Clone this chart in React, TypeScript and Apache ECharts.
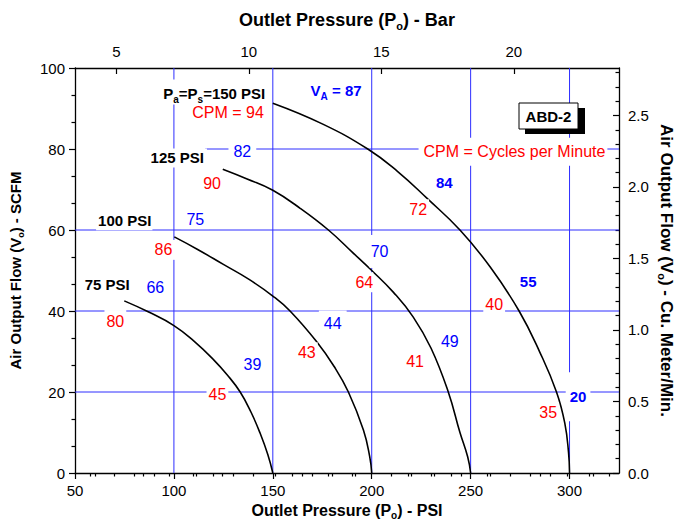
import React, { useEffect, useRef } from 'react';
import * as echarts from 'echarts';

// ---------- data ----------
const curve75 = [[74.9, 42.5], [87, 39.8], [100, 36.4], [110, 32.6], [120, 28.0], [127, 24.2], [133.5, 20], [139, 15], [143.6, 9.8], [147.5, 4.5], [150, 0]];
const curve100 = [[100.2, 58.3], [112, 55.2], [125, 51.5], [138, 47.8], [150, 43.7], [158.7, 40], [172.2, 32.4], [181, 26.3], [188.2, 20], [195.8, 10.6], [199, 4], [200, 0]];
const curve125 = [[124.7, 75], [137, 72.6], [150, 69.8], [164, 65.3], [178.1, 60], [190, 54.6], [200, 50], [211, 44.6], [221, 38.5], [230, 30.8], [238.7, 20], [244.6, 10], [248.5, 4], [250, 0]];
const curve150 = [[150, 91.3], [175, 86.2], [198, 80], [213, 74.5], [228, 67.8], [244.6, 60], [260, 50.8], [274.5, 40], [285, 29.8], [293.4, 20], [297.6, 12.3], [299.5, 5], [300, 0]];

const gridVerticalX = [100, 150, 200, 250, 300];
const gridHorizontalY = [20, 40, 60, 80];
const gridHorizontalStart = [50, 50, 50, 115.8];

const cpmLabels = ['CPM = 94', '90', '86', '80', '72', '64', '43', '45', '40', '41', '35', 'CPM = Cycles per Minute'];
const cpmX = [127.4, 119.3, 94.7, 70.4, 223.5, 195.5, 167.2, 122.0, 261.9, 221.9, 289.2, 271.4];
const cpmY = [88.9, 71.6, 55.1, 37.4, 65.1, 47.1, 29.8, 19.3, 41.7, 27.5, 15.0, 79.3];

const flowLabels = ['82', '75', '66', '70', '44', '39', '49'];
const flowX = [134.6, 110.8, 90.6, 204.2, 180.3, 139.7, 239.5];
const flowY = [79.3, 62.7, 45.9, 54.7, 36.8, 26.7, 32.5];

const flowBoldLabels = ['84', '55', '20'];
const flowBoldX = [236.7, 279.1, 304.3];
const flowBoldY = [71.7, 47.3, 18.8];

const pressureLabels = ['125 PSI', '100 PSI', '75 PSI'];
const pressureX = [101.7, 74.9, 66.3];
const pressureY = [77.8, 62.3, 46.5];

const headPressureX = 120.4;
const headPressureY = 94.1;
const airVolumeX = 182.0;
const airVolumeY = 94.1;

const bottomMajor = [50, 100, 150, 200, 250, 300];
const bottomMinor = [60, 70, 80, 90, 110, 120, 130, 140, 160, 170, 180, 190, 210, 220, 230, 240, 260, 270, 280, 290, 310, 320];
const topMajor = [5, 10, 15, 20];
const topMinor = [4, 6, 7, 8, 9, 11, 12, 13, 14, 16, 17, 18, 19, 21, 22, 23];
const rightMajor = [0, 0.5, 1.0, 1.5, 2.0, 2.5];
const rightMinor = [0.1, 0.2, 0.3, 0.4, 0.6, 0.7, 0.8, 0.9, 1.1, 1.2, 1.3, 1.4, 1.6, 1.7, 1.8, 1.9, 2.1, 2.2, 2.3, 2.4, 2.6, 2.7, 2.8];

// ---------- styles ----------
const FONT = '"Liberation Sans", Arial, Helvetica, sans-serif';
const BLUE = '#0000ff';
const GRIDBLUE = '#2e2eff';
const RED = '#ff0000';
const CLEAR = 'rgba(0,0,0,0)';

const cpmPads = [[2, 3, 2, 3], [2, 3, 2, 3], [2, 3, 2, 3], [5, 2, 2, 2], [2, 2, 2, 2], [2, 0, 2, 3], [2, 2, 2, 2], [2, 2, 2, 2], [2, 2, 2, 2], [2, 2, 2, 2], [2, 2, 2, 2], [8, 2, 4, 5]];
const flowPads = [[2, 5, 2, 5], [2, 5, 2, 5], [2, 2, 2, 2], [12, 2, 5, 1], [8, 5, 3, 5], [2, 2, 2, 2], [2, 2, 2, 2]];
const flowBoldPads = [[2, 2, 2, 2], [2, 2, 2, 2], [22, 4, 12, 4]];
const pressurePads = [[2, 3, 2, 3], [2, 1, 2, 2], [2, 2, 2, 2]];

function labelSeries(name: string, texts: string[], xs: number[], ys: number[], pads: number[][], color: string, size: number, weight: string) {
  return {
    type: 'scatter',
    name,
    xAxisIndex: 0,
    yAxisIndex: 0,
    symbol: 'circle',
    symbolSize: 2,
    itemStyle: { color: CLEAR, borderWidth: 0 },
    z: 10,
    silent: true,
    data: texts.map((t, i) => ({
      name: t,
      value: [xs[i], ys[i]],
      label: { padding: pads[i] },
    })),
    label: {
      show: true,
      position: 'inside',
      formatter: '{b}',
      color,
      opacity: 1,
      fontSize: size,
      fontWeight: weight,
      fontFamily: FONT,
      backgroundColor: '#ffffff',
    },
  };
}

function nameRich(size: number) {
  return {
    m: { fontSize: size, fontWeight: 'bold', fontFamily: FONT, color: '#000', lineHeight: size + 4 },
    s: { fontSize: Math.round(size * 0.62), fontWeight: 'bold', fontFamily: FONT, color: '#000', lineHeight: Math.round(size * 0.62), verticalAlign: 'bottom' },
  };
}

export default function App() {
  const ref = useRef<HTMLDivElement>(null);
  useEffect(() => {
    if (!ref.current) return;
    const chart = echarts.init(ref.current, undefined, { renderer: 'svg' });

    const gridSegs: number[][][] = [];
    gridVerticalX.forEach((x) => gridSegs.push([[x, 0], [x, 100]]));
    gridHorizontalY.forEach((y, i) => gridSegs.push([[gridHorizontalStart[i], y], [325, y]]));

    const tickLabel = { color: '#000', fontSize: 15, fontFamily: FONT };

    const option: any = {
      animation: false,
      backgroundColor: '#ffffff',
      textStyle: { fontFamily: FONT },
      grid: { left: 75, right: 57, top: 68, bottom: 49, containLabel: false, outerBoundsMode: 'none' },
      xAxis: [
        {
          type: 'value', position: 'bottom', min: 50, max: 325,
          axisLine: { show: true, onZero: false, lineStyle: { color: '#000', width: 1.3 } },
          axisTick: { show: true, inside: false, length: 6, customValues: bottomMajor, lineStyle: { color: '#000', width: 1.2 } },
          axisLabel: { ...tickLabel, margin: 10, customValues: bottomMajor },
          splitLine: { show: false },
          name: '{m|Outlet Pressure (P}{s|o}{m|) - PSI}',
          nameLocation: 'middle', nameGap: 27, nameMoveOverlap: false,
          nameTextStyle: { rich: nameRich(16) },
        },
        {
          type: 'value', position: 'bottom', min: 50, max: 325,
          axisLine: { show: false },
          axisTick: { show: true, inside: false, length: 3.5, customValues: bottomMinor, lineStyle: { color: '#000', width: 1.2 } },
          axisLabel: { show: false },
          splitLine: { show: false },
        },
        {
          type: 'value', position: 'top', min: 3.44, max: 23.97,
          axisLine: { show: true, onZero: false, lineStyle: { color: '#000', width: 1.3 } },
          axisTick: { show: true, inside: true, length: 6, customValues: topMajor, lineStyle: { color: '#000', width: 1.2 } },
          axisLabel: { ...tickLabel, margin: 9, customValues: topMajor },
          splitLine: { show: false },
          name: '{m|Outlet Pressure (P}{s|o}{m|) - Bar}',
          nameLocation: 'middle', nameGap: 37, nameMoveOverlap: false,
          nameTextStyle: { rich: nameRich(18) },
        },
        {
          type: 'value', position: 'top', min: 3.44, max: 23.97,
          axisLine: { show: false },
          axisTick: { show: true, inside: true, length: 3.5, customValues: topMinor, lineStyle: { color: '#000', width: 1.2 } },
          axisLabel: { show: false },
          splitLine: { show: false },
        },
      ],
      yAxis: [
        {
          type: 'value', position: 'left', min: 0, max: 100, interval: 20,
          axisLine: { show: true, onZero: false, lineStyle: { color: '#000', width: 1.3 } },
          axisTick: { show: true, inside: false, length: 6, lineStyle: { color: '#000', width: 1.2 } },
          minorTick: { show: true, splitNumber: 3, length: 3.5, lineStyle: { color: '#000', width: 1.2 } },
          axisLabel: { ...tickLabel, margin: 10 },
          splitLine: { show: false },
          minorSplitLine: { show: false },
          name: '{m|Air Output Flow (V}{s|o}{m|) - SCFM}',
          nameLocation: 'middle', nameGap: 50, nameMoveOverlap: false,
          nameTextStyle: { rich: nameRich(15) },
        },
        {
          type: 'value', position: 'right', min: 0, max: 2.832,
          axisLine: { show: true, onZero: false, lineStyle: { color: '#000', width: 1.3 } },
          axisTick: { show: true, inside: true, length: 6, customValues: rightMajor, lineStyle: { color: '#000', width: 1.2 } },
          axisLabel: { ...tickLabel, margin: 9, customValues: rightMajor, formatter: (v: number) => v.toFixed(1) },
          splitLine: { show: false },
          name: '{m|Air Output Flow (V}{s|o}{m|) - Cu. Meter/Min.}',
          nameLocation: 'middle', nameGap: 37, nameRotate: -90, nameMoveOverlap: false,
          nameTextStyle: { rich: nameRich(17) },
        },
        {
          type: 'value', position: 'right', min: 0, max: 2.832,
          axisLine: { show: false },
          axisTick: { show: true, inside: true, length: 3.5, customValues: rightMinor, lineStyle: { color: '#000', width: 1.2 } },
          axisLabel: { show: false },
          splitLine: { show: false },
        },
      ],
      graphic: [
        { type: 'rect', shape: { x: 525, y: 108, width: 60, height: 26 }, style: { fill: '#000' }, z: 20 },
        { type: 'rect', shape: { x: 519, y: 103, width: 59, height: 26 }, style: { fill: '#fff', stroke: '#000', lineWidth: 1 }, z: 21 },
        { type: 'text', x: 548.5, y: 116.5, style: { text: 'ABD-2', fill: '#000', font: `bold 15px ${FONT}`, align: 'center', verticalAlign: 'middle' }, z: 22 },
      ],
      series: [
        ...gridSegs.map((c) => ({
          type: 'line', xAxisIndex: 0, yAxisIndex: 0, z: 1, silent: true,
          data: c, showSymbol: false, symbol: 'none',
          lineStyle: { color: GRIDBLUE, width: 1 },
          itemStyle: { color: GRIDBLUE },
        })),
        ...[curve75, curve100, curve125, curve150].map((d) => ({
          type: 'line', xAxisIndex: 0, yAxisIndex: 0, z: 3, silent: true,
          data: d, smooth: 0.45, showSymbol: false, symbol: 'none',
          lineStyle: { color: '#000', width: 1.6 },
          itemStyle: { color: '#000' },
        })),
        labelSeries('cpm', cpmLabels, cpmX, cpmY, cpmPads, RED, 16, 'normal'),
        labelSeries('flow', flowLabels, flowX, flowY, flowPads, BLUE, 16, 'normal'),
        labelSeries('flowBold', flowBoldLabels, flowBoldX, flowBoldY, flowBoldPads, BLUE, 15, 'bold'),
        labelSeries('pressure', pressureLabels, pressureX, pressureY, pressurePads, '#000', 15, 'bold'),
        {
          type: 'scatter', xAxisIndex: 0, yAxisIndex: 0, symbolSize: 2, itemStyle: { color: CLEAR }, z: 10, silent: true,
          data: [
            { value: [headPressureX, headPressureY], label: { formatter: '{m|P}{s|a}{m|=P}{s|s}{m|=150 PSI}', padding: [3, 3, 0, 3], rich: {
              m: { fontSize: 15, fontWeight: 'bold', fontFamily: FONT, color: '#000', lineHeight: 22 },
              s: { fontSize: 10, fontWeight: 'bold', fontFamily: FONT, color: '#000', lineHeight: 10, verticalAlign: 'bottom' },
            } } },
            { value: [airVolumeX, airVolumeY], label: { formatter: '{m|V}{s|A}{m| = 87}', padding: [3, 4, 6, 4], rich: {
              m: { fontSize: 15, fontWeight: 'bold', fontFamily: FONT, color: BLUE, lineHeight: 22 },
              s: { fontSize: 10, fontWeight: 'bold', fontFamily: FONT, color: BLUE, lineHeight: 10, verticalAlign: 'bottom' },
            } } },
          ],
          label: { show: true, position: 'inside', opacity: 1, backgroundColor: '#ffffff' },
        },
      ],
    };
    chart.setOption(option);
    return () => chart.dispose();
  }, []);
  return <div ref={ref} style={{ position: 'fixed', left: 0, top: 0, width: 676, height: 522, background: '#fff' }} />;
}
